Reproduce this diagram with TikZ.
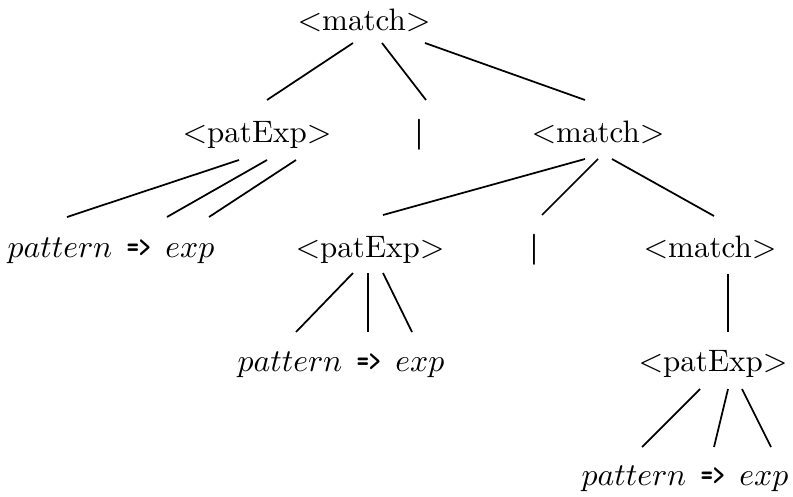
\documentclass[tikz,border=0pt]{standalone}
\usepackage{graphicx}
\usetikzlibrary{calc}
\begin{document}
\begin{tikzpicture}[x=0.345pt,y=-0.345pt,
  lbl/.style={inner sep=0pt,anchor=base,font=\fontsize{10.7}{13}\selectfont},
  edge/.style={line width=0.6pt}]
\useasboundingbox (0,0) rectangle (793,496);
\newcommand{\leaftext}{$pattern$\hspace{5pt}\scalebox{0.72}[1]{\fontsize{11}{13}\selectfont\texttt{\bfseries =>}}\hspace{5pt}$exp$}
\newcommand{\bartext}{\textsf{\bfseries |}}
% nodes
\node[lbl] (r) at (364,31) {$<$match$>$};
\node[lbl] (a) at (257,143) {$<$patExp$>$};
\node[lbl] (b) at (419,143) {\bartext};
\node[lbl] (c) at (598,143) {$<$match$>$};
\node[lbl] (d) at (111,257) {\leaftext};
\node[lbl] (e) at (370,257) {$<$patExp$>$};
\node[lbl] (f) at (534,257) {\bartext};
\node[lbl] (g) at (710,257) {$<$match$>$};
\node[lbl] (h) at (341,371) {\leaftext};
\node[lbl] (i) at (713,371) {$<$patExp$>$};
\node[lbl] (j) at (685,485) {\leaftext};
% edges
\draw[edge] ($(r.base)+(-11,12)$) -- ($(a.base)+(10,-43)$);
\draw[edge] ($(r.base)+(18,12)$) -- ($(b.base)+(7,-43)$);
\draw[edge] ($(r.base)+(61,12)$) -- ($(c.base)+(-13,-43)$);
\draw[edge] ($(a.base)+(-18,17)$) -- ($(d.base)+(-44,-40)$);
\draw[edge] ($(a.base)+(10,17)$) -- ($(d.base)+(56,-40)$);
\draw[edge] ($(a.base)+(39,17)$) -- ($(d.base)+(98,-40)$);
\draw[edge] ($(c.base)+(-13,16)$) -- ($(e.base)+(13,-42)$);
\draw[edge] ($(c.base)+(0,16)$) -- ($(f.base)+(8,-42)$);
\draw[edge] ($(c.base)+(14,16)$) -- ($(g.base)+(4,-41)$);
\draw[edge] ($(e.base)+(-17,16)$) -- ($(h.base)+(-45,-39)$);
\draw[edge] ($(e.base)+(-2,16)$) -- ($(h.base)+(27,-39)$);
\draw[edge] ($(e.base)+(13,16)$) -- ($(h.base)+(71,-39)$);
\draw[edge] ($(g.base)+(18,17)$) -- ($(i.base)+(15,-39)$);
\draw[edge] ($(i.base)+(-13,18)$) -- ($(j.base)+(-43,-38)$);
\draw[edge] ($(i.base)+(15,18)$) -- ($(j.base)+(29,-38)$);
\draw[edge] ($(i.base)+(29,18)$) -- ($(j.base)+(86,-38)$);
\end{tikzpicture}
\end{document}
